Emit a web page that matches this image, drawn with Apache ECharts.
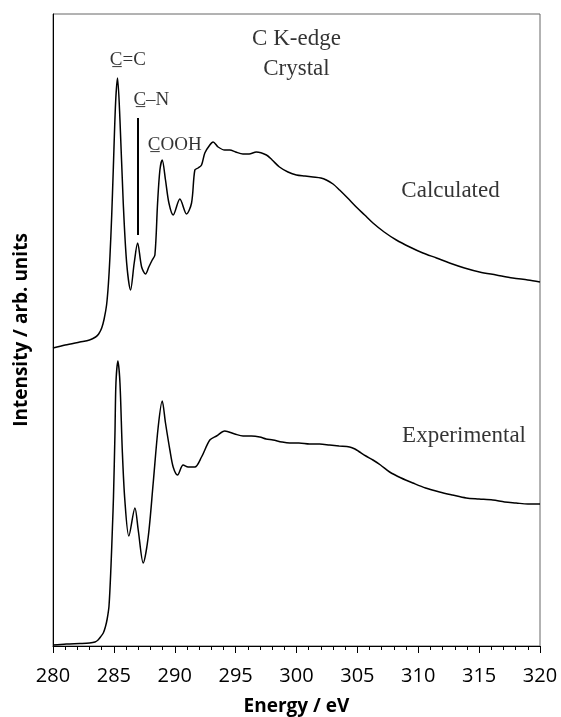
<!DOCTYPE html>
<html>
<head>
<meta charset="utf-8">
<script src="https://cdn.jsdelivr.net/npm/echarts@6/dist/echarts.min.js"></script>
<style>html,body{margin:0;padding:0;background:#fff}#c{width:561px;height:717px}</style>
</head>
<body>
<div id="c"></div>
<script>
// Energy (eV) and intensity (arb. units)
var calcEnergy = [280, 281.0, 282.2, 283.0, 283.5, 283.75, 284.0, 284.2, 284.4, 284.55, 284.68, 284.82, 284.95, 285.14, 285.3, 285.5, 285.77, 286.05, 286.37, 286.67, 286.95, 287.28, 287.6, 287.87, 288.15, 288.37, 288.59, 288.78, 288.97, 289.24, 289.52, 289.87, 290.42, 290.97, 291.38, 291.65, 291.92, 292.2, 292.47, 292.88, 293.15, 293.56, 294.1, 294.52, 295.0, 295.6, 296.1, 296.7, 297.53, 298.0, 298.6, 299.3, 299.99, 300.7, 301.35, 302.0, 302.45, 303.0, 303.54, 304.2, 304.91, 305.6, 306.28, 307.2, 308.2, 309.3, 310.38, 311.5, 312.57, 313.8, 315.03, 316.4, 317.76, 319.0, 320];
var calcIntensity = [298, 301, 304, 306, 309, 312, 318, 327, 341, 362, 390, 430, 476, 543, 568, 526, 443, 383, 356, 383, 403, 379, 372, 379, 386, 391, 443, 476, 486, 466, 443, 431, 447, 432, 443, 476, 478, 481, 493, 501, 504, 499, 496, 496, 494, 492, 492, 494, 491, 486, 479, 474, 471, 470, 469, 468, 466, 462, 456, 448, 439, 431, 423, 414, 406, 399, 393, 388, 383, 378, 374, 371, 368, 366, 364];
var expEnergy = [280, 281.1, 282.2, 283.0, 283.45, 283.7, 283.9, 284.13, 284.3, 284.45, 284.6, 284.76, 284.88, 284.97, 285.09, 285.17, 285.33, 285.5, 285.69, 285.9, 286.23, 286.73, 287.0, 287.41, 287.82, 288.23, 288.64, 288.97, 289.24, 289.6, 289.87, 290.23, 290.69, 291.1, 291.65, 292.2, 292.88, 293.43, 294.11, 294.93, 295.61, 296.3, 296.98, 297.5, 298.07, 298.8, 299.44, 300.2, 301.08, 301.9, 302.72, 303.5, 304.36, 304.8, 305.18, 305.7, 306.28, 306.9, 307.65, 308.6, 309.56, 310.6, 311.75, 312.8, 313.94, 315.0, 316.12, 317.1, 318.04, 319.0, 320];
var expIntensity = [1, 2, 2.5, 3, 4, 6, 9, 13, 19, 27, 40, 79, 118, 150, 213, 263, 285, 263, 196, 146, 110, 138, 116, 83, 109, 163, 219, 245, 223, 196, 179, 171, 181, 179, 179, 189, 206, 210, 215, 212, 210, 210, 209, 207, 206, 204, 203, 203, 202, 202, 201, 200, 199, 197, 194, 190, 186, 181, 174, 168, 163, 158, 154, 151, 148, 147, 146, 144, 143, 142, 142];
var xTicks = [280, 285, 290, 295, 300, 305, 310, 315, 320];
// C–N marker line: energy, from / to intensity
var cnLine = [286.95, 411, 528];
// Annotation texts at [energy, intensity]
var annoText = ['C K-edge', 'Crystal', 'C\u0332=C', 'C\u0332\u2013N', 'C\u0332OOH', 'Calculated', 'Experimental'];
var annoEnergy = [300, 300, 286.15, 288.08, 290.0, 312.65, 313.76];
var annoIntensity = [607, 577, 586, 546, 501, 455, 210];
var annoSize = [23, 23, 19, 19, 19, 23, 23];

function pairs(a, b) { return a.map(function (v, i) { return [v, b[i]]; }); }

var chart = echarts.init(document.getElementById('c'), null, {renderer: 'canvas'});
var annoData = annoText.map(function (t, i) {
  return {value: [annoEnergy[i], annoIntensity[i]], name: t,
    label: {fontSize: annoSize[i]}};
});
chart.setOption({
  animation: false,
  backgroundColor: '#fff',
  grid: {left: 53, right: 21, top: 14, bottom: 71, show: true, borderColor: '#666', borderWidth: 1,
    containLabel: false, outerBoundsMode: 'none'},
  xAxis: {
    type: 'value', min: 280, max: 320, interval: 5,
    name: 'Energy / eV', nameLocation: 'middle', nameGap: 51,
    nameTextStyle: {fontFamily: 'Open Sans', fontWeight: 'bold', fontSize: 19, color: '#000'},
    axisLine: {lineStyle: {color: '#000', width: 1}},
    axisTick: {show: true, length: 7, inside: false, lineStyle: {color: '#000'}},
    minorTick: {show: true, splitNumber: 5, length: 4, lineStyle: {color: '#000'}},
    splitLine: {show: false},
    axisLabel: {fontFamily: 'Open Sans', fontSize: 20, color: '#000', margin: 20,
      formatter: function (v) { return xTicks.indexOf(v) >= 0 ? String(v) : ''; }}
  },
  yAxis: {
    type: 'value', min: 0, max: 632,
    name: 'Intensity / arb. units', nameLocation: 'middle', nameGap: 22,
    nameTextStyle: {fontFamily: 'Open Sans', fontWeight: 'bold', fontSize: 19, color: '#000'},
    axisLine: {show: true, lineStyle: {color: '#000', width: 1}},
    axisTick: {show: false}, axisLabel: {show: false}, splitLine: {show: false}
  },
  series: [
    {type: 'line', data: pairs(calcEnergy, calcIntensity), showSymbol: false, smooth: 0.3,
      lineStyle: {color: '#000', width: 1.5},
      markLine: {symbol: 'none', silent: true, label: {show: false},
        lineStyle: {color: '#000', width: 2, type: 'solid'},
        data: [[{coord: [cnLine[0], cnLine[1]]}, {coord: [cnLine[0], cnLine[2]]}]]}},
    {type: 'line', data: pairs(expEnergy, expIntensity), showSymbol: false, smooth: 0.3,
      lineStyle: {color: '#000', width: 1.5}},
    {type: 'scatter', data: annoData, symbolSize: 0, silent: true,
      label: {show: true, position: 'inside', formatter: '{b}', color: '#000',
        fontFamily: 'Liberation Serif'}}
  ]
});
</script>
</body>
</html>
